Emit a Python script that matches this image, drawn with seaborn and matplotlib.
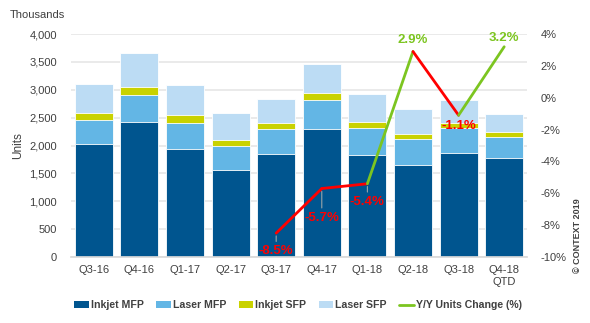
import matplotlib
matplotlib.use("Agg")
import matplotlib.pyplot as plt
from matplotlib.patches import Patch
from matplotlib.lines import Line2D
import seaborn as sns
import pandas as pd
import numpy as np

# Quarterly shipments (thousands of units) by product group
quarters = ["Q3-16", "Q4-16", "Q1-17", "Q2-17", "Q3-17", "Q4-17",
            "Q1-18", "Q2-18", "Q3-18", "Q4-18\nQTD"]
inkjet_mfp = [2030, 2420, 1945, 1560, 1850, 2290, 1830, 1645, 1870, 1770]
laser_mfp = [430, 480, 465, 430, 440, 525, 480, 475, 445, 390]
inkjet_sfp = [120, 145, 140, 115, 115, 125, 120, 95, 90, 80]
laser_sfp = [520, 620, 535, 475, 435, 520, 495, 435, 410, 330]

# Year-on-year change in total units (%), from Q3-17 onwards
yoy_quarters = ["Q3-17", "Q4-17", "Q1-18", "Q2-18", "Q3-18", "Q4-18\nQTD"]
yoy_change = [-8.5, -5.7, -5.4, 2.9, -1.1, 3.2]
yoy_labels = ["-8.5%", "-5.7%", "-5.4%", "2.9%", "-1.1%", "3.2%"]

series_names = ["Inkjet MFP", "Laser MFP", "Inkjet SFP", "Laser SFP"]
series_colors = ["#00558f", "#63b6e5", "#c9d200", "#bcdcf4"]
pos_color = "#7cc520"
neg_color = "#ff0000"

sns.set_theme(style="white")
plt.rcParams["font.family"] = ["Liberation Sans", "DejaVu Sans"]
text_color = "#404040"

df = pd.DataFrame({"quarter": quarters,
                   "Inkjet MFP": inkjet_mfp, "Laser MFP": laser_mfp,
                   "Inkjet SFP": inkjet_sfp, "Laser SFP": laser_sfp})
cum = df[series_names].cumsum(axis=1)

fig = plt.figure(figsize=(5.9, 3.23), dpi=100)
ax = fig.add_axes([0.1203, 0.2043, 0.7729, 0.6904])

# Stacked bars: draw cumulative totals from the top layer down
for name, color in reversed(list(zip(series_names, series_colors))):
    sns.barplot(x=df["quarter"], y=cum[name], color=color, width=0.83,
                saturation=1, edgecolor="white", linewidth=0.6, ax=ax, zorder=2)

ax.set_ylim(0, 4000)
ax.set_yticks(np.arange(0, 4001, 500))
ax.set_yticklabels([f"{v:,}" for v in range(0, 4001, 500)])
ax.yaxis.grid(True, color="#e6e6e6", linewidth=1.2, zorder=0)
ax.set_axisbelow(True)
ax.set_xlim(-0.5, len(quarters) - 0.5)
ax.set_xlabel("")
ax.set_ylabel("")
for s in ["top", "right", "left"]:
    ax.spines[s].set_visible(False)
ax.spines["bottom"].set_color("#d9d9d9")
ax.tick_params(axis="both", length=0, labelsize=8, colors=text_color, pad=10)
ax.tick_params(axis="x", pad=6)
fig.text(0.017, 0.955, "Thousands", fontsize=8, color=text_color, va="center")
fig.text(0.03, 0.55, "Units", fontsize=8.5, color=text_color, rotation=90,
         ha="center", va="center")

# Secondary axis for the Y/Y change line
ax2 = ax.twinx()
ax2.set_ylim(-10, 4)
ax2.set_yticks(np.arange(-10, 5, 2))
ax2.set_yticklabels([f"{v}%" for v in range(-10, 5, 2)])
for s in ax2.spines.values():
    s.set_visible(False)
ax2.tick_params(axis="y", length=0, labelsize=8, colors=text_color, pad=10)
ax2.grid(False)

xpos = [quarters.index(q) for q in yoy_quarters]
for i in range(1, len(xpos)):
    c = pos_color if yoy_change[i] >= 0 else neg_color
    ax2.plot(xpos[i - 1:i + 1], yoy_change[i - 1:i + 1], color=c,
             linewidth=2, solid_capstyle="round", zorder=5)

offsets = [-13, -21, -13, 8, -8, 6]
for x, v, lab, off in zip(xpos, yoy_change, yoy_labels, offsets):
    c = pos_color if v >= 0 else neg_color
    if off < -10:
        ax2.annotate("", xy=(x, v), xytext=(0, off + 5), textcoords="offset points",
                     arrowprops=dict(arrowstyle="-", color="#9aa5a8", lw=0.8))
    ax2.annotate(lab, xy=(x, v), xytext=(0, off), textcoords="offset points",
                 ha="center", va="center", fontsize=9.5, fontweight="bold",
                 color=c, zorder=6)

# Legend below the plot
handles = [Patch(facecolor=c, edgecolor="none") for c in series_colors]
handles.append(Line2D([0], [0], color=pos_color, linewidth=2))
leg = fig.legend(handles, series_names + ["Y/Y Units Change (%)"],
                 loc="center", bbox_to_anchor=(0.505, 0.055), ncol=5,
                 frameon=False, fontsize=7.6, handlelength=1.4, handleheight=0.6,
                 handletextpad=0.15, columnspacing=1.2)
for t in leg.get_texts():
    t.set_color(text_color)
    t.set_fontweight("bold")

fig.text(0.978, 0.27, "© CONTEXT 2019", rotation=90, fontsize=6.5,
         fontweight="bold", color="#404040", ha="center", va="center")

fig.savefig("out.png", dpi=100)
